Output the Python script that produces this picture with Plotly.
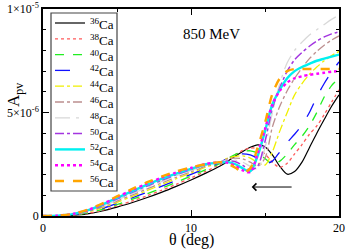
import plotly.graph_objects as go

theta = [0, 1, 2, 3, 4, 5, 6, 7, 8, 9, 10, 11, 12, 12.5, 13, 13.5, 14, 14.5,
         15, 15.5, 16, 16.5, 17, 17.5, 18, 18.5, 19, 19.5, 20]

# values in units of 1e-6
ca36 = [0, 0, .03, .10, .24, .43, .64, .88, 1.14, 1.43, 1.74, 2.07, 2.43, 2.65, 2.90, 3.12, 3.32, 3.44,
        3.35, 2.95, 2.40, 2.02, 2.15, 2.60, 3.30, 4.00, 4.66, 5.30, 5.85]
ca38 = [0, 0, .04, .12, .28, .49, .72, .97, 1.24, 1.53, 1.84, 2.16, 2.50, 2.73, 2.97, 3.17, 3.28, 3.26,
        3.00, 2.60, 2.35, 2.55, 3.00, 3.45, 3.95, 4.35, 4.90, 5.50, 6.10]
ca40 = [0, 0, .05, .14, .32, .55, .80, 1.06, 1.34, 1.63, 1.93, 2.24, 2.55, 2.78, 2.98, 3.11, 3.15, 3.05,
        2.78, 2.52, 2.65, 3.00, 3.45, 3.85, 4.35, 5.00, 5.75, 6.30, 6.65]
ca42 = [0, .01, .06, .17, .36, .61, .87, 1.14, 1.43, 1.72, 2.01, 2.31, 2.60, 2.80, 2.95, 3.00, 2.95, 2.78,
        2.53, 2.65, 3.10, 3.55, 3.95, 4.40, 5.00, 5.75, 6.40, 6.95, 7.45]
ca44 = [0, .01, .06, .19, .40, .66, .94, 1.22, 1.51, 1.80, 2.08, 2.36, 2.62, 2.80, 2.88, 2.90, 2.80, 2.58,
        2.46, 3.10, 4.10, 5.00, 5.85, 6.40, 6.85, 7.20, 7.50, 7.75, 7.95]
ca46 = [0, .01, .07, .21, .44, .72, 1.01, 1.30, 1.59, 1.87, 2.14, 2.41, 2.62, 2.76, 2.80, 2.76, 2.60, 2.40,
        2.80, 4.30, 5.30, 6.05, 6.65, 7.15, 7.60, 7.95, 8.25, 8.50, 8.70]
ca48 = [0, .01, .08, .23, .48, .77, 1.07, 1.37, 1.66, 1.94, 2.20, 2.45, 2.62, 2.70, 2.70, 2.60, 2.40, 2.27,
        3.30, 5.00, 6.40, 7.40, 8.00, 8.40, 8.75, 9.00, 9.25, 9.50, 9.70]
ca50 = [0, .01, .08, .25, .51, .82, 1.13, 1.44, 1.72, 1.99, 2.24, 2.48, 2.60, 2.66, 2.62, 2.45, 2.22, 2.40,
        3.60, 5.20, 6.20, 7.00, 7.55, 7.90, 8.20, 8.45, 8.65, 8.80, 8.90]
ca52 = [0, .02, .09, .27, .55, .87, 1.19, 1.50, 1.79, 2.05, 2.28, 2.50, 2.58, 2.60, 2.50, 2.30, 2.15, 2.90,
        4.10, 5.40, 6.10, 6.65, 7.00, 7.20, 7.35, 7.50, 7.60, 7.70, 7.80]
ca54 = [0, .02, .10, .28, .57, .91, 1.25, 1.56, 1.85, 2.10, 2.32, 2.52, 2.60, 2.57, 2.42, 2.20, 2.12, 3.00,
        4.20, 5.40, 6.05, 6.45, 6.65, 6.75, 6.82, 6.87, 6.92, 6.97, 7.00]
ca56 = [0, .02, .10, .30, .60, .95, 1.30, 1.62, 1.90, 2.15, 2.35, 2.50, 2.60, 2.52, 2.33, 2.10, 2.30, 3.30,
        4.50, 5.90, 6.65, 7.00, 7.10, 7.10, 7.10, 7.10, 7.10, 7.10, 7.10]

labels = ["36", "38", "40", "42", "44", "46", "48", "50", "52", "54", "56"]
series = [ca36, ca38, ca40, ca42, ca44, ca46, ca48, ca50, ca52, ca54, ca56]
colors = ["black", "#ff5a5a", "#22ee22", "#1010ff", "#f0f000", "#bc8f8f",
          "#d8d8d8", "#a335e0", "#00f0f0", "#ff00ff", "#ffa500"]
dashes = ["solid", "dot", "dash", "longdash", "dashdot", "dashdot",
          "longdashdot", "dashdot", "solid", "dot", "dash"]
widths = [1.2, 1.3, 1.3, 1.3, 1.3, 1.3, 1.3, 1.5, 2.4, 2.4, 2.4]

y_tickvals = [0, 5e-6, 1e-5]
y_ticktext = ["0", "5×10<sup>-6</sup>", "1×10<sup>-5</sup>"]
x_tickvals = [0, 10, 20]

FONT = "Liberation Serif"
W, H = 347, 249
ML, MR, MT, MB = 43, 8, 9, 33
PW, PH = W - ML - MR, H - MT - MB


def px_x(p):
    return (p - ML) / PW


def px_y(p):
    return (H - MB - p) / PH


fig = go.Figure()
for lab, vals, c, d, w in zip(labels, series, colors, dashes, widths):
    fig.add_trace(go.Scatter(
        x=theta, y=[v * 1e-6 for v in vals], mode="lines",
        name=f"<sup>{lab}</sup>Ca", showlegend=False,
        line=dict(color=c, dash=d, width=w, shape="spline", smoothing=0.8),
    ))

# legend box drawn by hand (plotly's legend rows are too tall)
fig.add_shape(type="rect", xref="paper", yref="paper",
              x0=px_x(51), x1=px_x(117), y0=px_y(191), y1=px_y(13),
              line=dict(color="#444", width=1.2), fillcolor="white", layer="above")
for i, (lab, c, d, w) in enumerate(zip(labels, colors, dashes, widths)):
    yc = 23 + i * 15.8
    fig.add_shape(type="line", xref="paper", yref="paper",
                  x0=px_x(55), x1=px_x(85), y0=px_y(yc), y1=px_y(yc),
                  line=dict(color=c, dash=d, width=w), layer="above")
    fig.add_annotation(xref="paper", yref="paper", x=px_x(88), y=px_y(yc + 1),
                       xanchor="left", yanchor="middle", showarrow=False,
                       text=f"<sup>{lab}</sup>Ca",
                       font=dict(family=FONT, size=13, color="black"))

fig.add_annotation(x=11.4, y=8.8e-6, text="850 MeV", showarrow=False,
                   font=dict(family=FONT, size=15, color="black"))
fig.add_annotation(x=14.1, y=1.4e-6, ax=16.9, ay=1.4e-6, axref="x", ayref="y",
                   text="", showarrow=True, arrowhead=4, arrowsize=1.4,
                   arrowwidth=1, arrowcolor="black")

# axis titles
fig.add_annotation(xref="paper", yref="paper", x=px_x(191), y=px_y(240),
                   text="θ (deg)", showarrow=False, xanchor="center", yanchor="middle",
                   font=dict(family=FONT, size=16, color="black"))
fig.add_annotation(xref="paper", yref="paper", x=px_x(15), y=px_y(95),
                   text="A<sub>pv</sub>", showarrow=False, textangle=-90,
                   xanchor="center", yanchor="middle",
                   font=dict(family=FONT, size=17, color="black"))

axis_common = dict(showline=True, linecolor="black", linewidth=1.5, mirror="allticks",
                   ticks="inside", ticklen=6, tickwidth=1, tickcolor="black",
                   showgrid=False, zeroline=False, automargin=False,
                   tickfont=dict(family=FONT, size=12, color="black"))

fig.update_xaxes(range=[0, 20], tickvals=x_tickvals, ticktext=["0", "10", "20"],
                 minor=dict(ticks="inside", ticklen=3, tickvals=[5, 15], tickcolor="black"),
                 **axis_common)
fig.update_yaxes(range=[0, 1e-5], tickvals=y_tickvals, ticktext=y_ticktext,
                 minor=dict(ticks="inside", ticklen=3, dtick=1e-6, tick0=0, tickcolor="black"),
                 **axis_common)

fig.update_layout(
    width=W, height=H,
    margin=dict(l=ML, r=MR, t=MT, b=MB),
    paper_bgcolor="white", plot_bgcolor="white",
    showlegend=False,
)

fig.write_html("out.html", config={"displayModeBar": False},
               post_script="document.body.style.margin='0';document.body.style.padding='0';")
